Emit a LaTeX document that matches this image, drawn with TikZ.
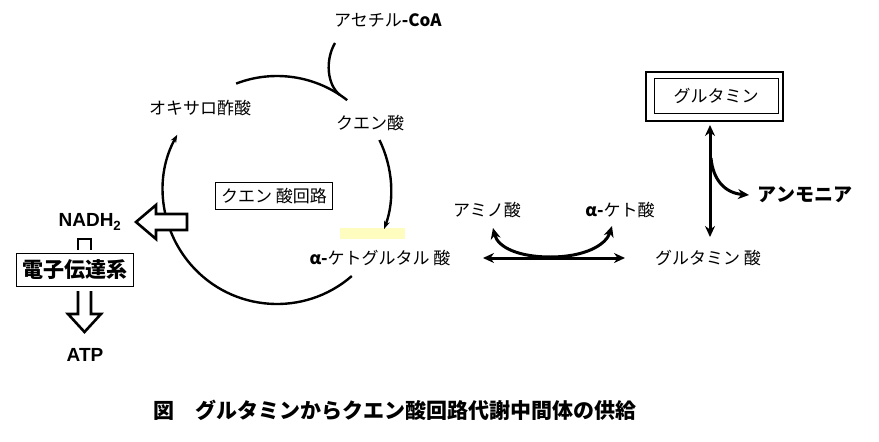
\documentclass[tikz,border=0pt]{standalone}
\usepackage{fontspec}
\setmainfont{Liberation Sans}
\newfontfamily\jp{Noto Sans CJK JP}
\usetikzlibrary{arrows.meta,calc}
\tikzset{
  lbl/.style={font=\jp\fontsize{17}{19}\selectfont, inner sep=1pt},
  boldlbl/.style={font=\jp\bfseries\fontsize{19}{21}\selectfont, inner sep=1pt},
  hollow/.style={draw=black, line width=2.6pt, fill=white, line join=miter},
  cycle arc/.style={line width=2.4pt},
  link/.style={line width=3pt, -{Stealth[length=11pt,width=10pt]}}
}
\begin{document}
\begin{tikzpicture}[x=1pt,y=-1pt]
    \useasboundingbox (0,0) rectangle (879,442);

    % Citric acid cycle
    \coordinate (c) at (277,190);
    \fill[yellow!25] (340,228) rectangle (405,239);
    \draw[cycle arc] ($(c)+(-111:114)$) arc[start angle=-111, end angle=-52, radius=114];
    \draw[cycle arc, -{Stealth[length=8pt]}] ($(c)+(-26:114)$) arc[start angle=-26, end angle=20, radius=114];
    \draw[cycle arc, -{Stealth[length=8pt]}] ($(c)+(49:114)$) arc[start angle=49, end angle=209, radius=114];
    \draw[cycle arc] (335,43) .. controls (325,60) and (327,85) .. (340,95);

    \node[lbl] (acetyl) at (388,20) {アセチル\textbf{-CoA}};
    \node[lbl] (citrate) at (370,123) {クエン酸};
    \node[lbl] (oxalo) at (200,108) {オキサロ酢酸};
    \node[lbl] (akg) at (380,258) {\textbf{α-}ケトグルタル 酸};
    \node[lbl, draw, line width=1pt, inner sep=6pt] (tca) at (274,196) {クエン 酸回路};

    % Electron transport
    \node[font=\bfseries\fontsize{19}{21}\selectfont] (nadh) at (90,222) {NADH\textsubscript{2}};
    \draw[hollow] (187,214) -- (156,214) -- (156,205) -- (136,222) -- (156,239) -- (156,230) -- (187,230) -- cycle;
    \draw[hollow] (78,250) -- (78,239) -- (91,239) -- (91,250);
    \node[draw, line width=1pt, inner sep=6pt, font=\jp\bfseries\fontsize{21}{23}\selectfont] (etc) at (75,270) {電子伝達系};
    \draw[hollow] (78,291) -- (78,314) -- (68,314) -- (84.5,332) -- (101,314) -- (91,314) -- (91,291);
    \node[font=\bfseries\fontsize{19}{21}\selectfont] (atp) at (85,355) {ATP};

    % Glutamine side
    \node[lbl, draw, line width=1pt, minimum width=124pt, minimum height=35pt] (gln) at (716,96) {グルタミン};
    \draw[line width=2.6pt] (646,72) rectangle (783,121);
    \node[lbl] (glu) at (708,258) {グルタミン 酸};
    \node[boldlbl] (nh3) at (805,195) {アンモニア};
    \node[lbl] (aa) at (487,210) {アミノ酸};
    \node[lbl] (ka) at (620,210) {\textbf{α-}ケト酸};

    \coordinate (gtop) at (710,125);
    \coordinate (gbot) at (710,237);
    \draw[link, {Stealth[length=11pt,width=10pt]}-{Stealth[length=11pt,width=10pt]}] (gtop) -- (gbot);
    \draw[link] (711,158) .. controls (713,180) and (725,193) .. (749,195);

    \coordinate (hl) at (483,258);
    \coordinate (hr) at (625,258);
    \draw[link, {Stealth[length=11pt,width=10pt]}-{Stealth[length=11pt,width=10pt]}] (hl) -- (hr);
    \draw[link] (550,257) .. controls (520,257) and (498,248) .. (493,228);
    \draw[link] (550,257) .. controls (585,257) and (606,245) .. (612,226);

    % Caption
    \node[font=\jp\bfseries\fontsize{21}{23}\selectfont] (caption) at (395,410) {図\hspace{1em}グルタミンからクエン酸回路代謝中間体の供給};
\end{tikzpicture}
\end{document}
